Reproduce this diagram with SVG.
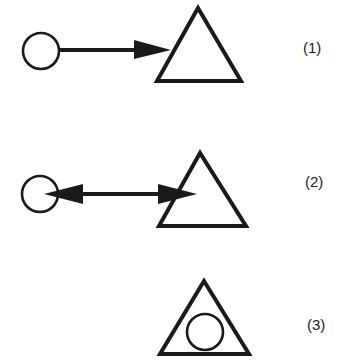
<svg xmlns="http://www.w3.org/2000/svg" width="344" height="362" viewBox="0 0 344 362">
  <style>
    .bg { fill: #ffffff; }
    .tri { fill: none; stroke: #1a1a1a; stroke-width: 4; stroke-linejoin: miter; }
    .circ { fill: none; stroke: #1a1a1a; stroke-width: 2.6; }
    .link { stroke: #1a1a1a; stroke-width: 4; fill: none; }
    .head { fill: #1a1a1a; }
    .label { font-family: "Liberation Sans", Arial, sans-serif; font-size: 15px; fill: #222222; }
  </style>
  <rect class="bg" x="0" y="0" width="344" height="362"/>

  <!-- case 1: circle points at triangle -->
  <g id="circle1"><circle class="circ" cx="41" cy="51" r="18"/></g>
  <g id="triangle1"><polygon class="tri" points="198,8 157,81 241,81"/></g>
  <g id="label1"><text class="label" x="303" y="53">(1)</text></g>

  <!-- case 2: two-way link -->
  <g id="circle2"><circle class="circ" cx="40" cy="194" r="18"/></g>
  <g id="triangle2"><polygon class="tri" points="200,153 159,226 246,226"/></g>
  <g id="label2"><text class="label" x="305" y="187">(2)</text></g>

  <!-- case 3: circle inside triangle -->
  <g id="triangle3"><polygon class="tri" points="204,281 160,354 249,354"/></g>
  <g id="circle3"><circle class="circ" cx="205" cy="332" r="18"/></g>
  <g id="label3"><text class="label" x="307" y="330">(3)</text></g>

  <g id="connectors">
    <line class="link" x1="59" y1="50" x2="140" y2="50"/>
    <polygon class="head" points="134,40 171,50 134,59"/>
    <line class="link" x1="70" y1="194" x2="165" y2="194"/>
    <polygon class="head" points="83,184 44,194 83,204"/>
    <polygon class="head" points="158,184 197,194 158,204"/>
  </g>
</svg>
